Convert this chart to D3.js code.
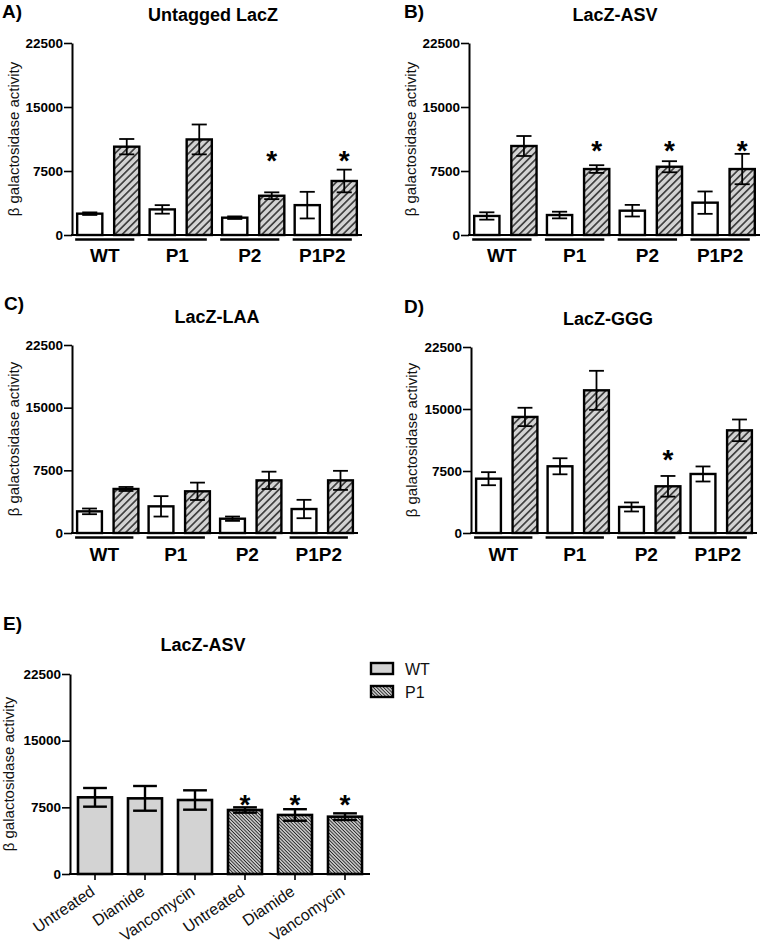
<!DOCTYPE html>
<html><head><meta charset="utf-8">
<script src="https://cdn.jsdelivr.net/npm/d3@7"></script>
<style>
body{margin:0;background:#fff}
svg{display:block}
text{font-family:Arial,"Liberation Sans",sans-serif}
</style>
</head><body>
<svg id="c" width="763" height="949"></svg>
<script>
// ---------- data ----------
const yTicks = [0, 7500, 15000, 22500];
const groups = ["WT", "P1", "P2", "P1P2"];
const strains = ["white", "hatched"];

// A) Untagged LacZ
const aWhite = [2500, 3000, 2030, 3500];
const aWhiteErr = [150, 500, 150, 1560];
const aHatch = [10350, 11200, 4600, 6330];
const aHatchErr = [900, 1750, 400, 1330];
const aStars = [false, false, true, true];

// B) LacZ-ASV
const bWhite = [2230, 2340, 2850, 3790];
const bWhiteErr = [430, 390, 680, 1310];
const bHatch = [10430, 7730, 8000, 7730];
const bHatchErr = [1170, 450, 650, 1780];
const bStars = [false, true, true, true];

// C) LacZ-LAA
const cWhite = [2590, 3190, 1710, 2870];
const cWhiteErr = [340, 1220, 260, 1100];
const cHatch = [5270, 4990, 6300, 6300];
const cHatchErr = [240, 1040, 1040, 1140];
const cStars = [false, false, false, false];

// D) LacZ-GGG
const dWhite = [6570, 8070, 3150, 7140];
const dWhiteErr = [790, 970, 545, 910];
const dHatch = [14040, 17260, 5650, 12420];
const dHatchErr = [1110, 2360, 1250, 1310];
const dStars = [false, false, true, false];

// E) LacZ-ASV treatments
const eCategories = ["Untreated", "Diamide", "Vancomycin", "Untreated", "Diamide", "Vancomycin"];
const eStrain = ["WT", "WT", "WT", "P1", "P1", "P1"];
const eValues = [8625, 8510, 8325, 7200, 6640, 6450];
const eErr = [1050, 1390, 1090, 300, 650, 375];
const eStars = [false, false, false, true, true, true];
const legendLabels = ["WT", "P1"];

// ---------- drawing ----------
const svg = d3.select("#c");
const defs = svg.append("defs");

const pA = defs.append("pattern").attr("id", "hatchA")
  .attr("patternUnits", "userSpaceOnUse").attr("width", 5.2).attr("height", 5.2)
  .attr("patternTransform", "rotate(45)");
pA.append("rect").attr("width", 5.2).attr("height", 5.2).attr("fill", "#d3d3d3");
pA.append("line").attr("x1", 2.6).attr("x2", 2.6).attr("y1", 0).attr("y2", 5.2)
  .attr("stroke", "#111").attr("stroke-width", 1.3);

const pE = defs.append("pattern").attr("id", "hatchE")
  .attr("patternUnits", "userSpaceOnUse").attr("width", 2.4).attr("height", 2.4)
  .attr("patternTransform", "rotate(-45)");
pE.append("rect").attr("width", 2.4).attr("height", 2.4).attr("fill", "#d0d0d0");
pE.append("line").attr("x1", 1.2).attr("x2", 1.2).attr("y1", 0).attr("y2", 2.4)
  .attr("stroke", "#222").attr("stroke-width", 0.9);

function styleYAxis(g) {
  g.select(".domain").attr("stroke", "#000").attr("stroke-width", 2);
  g.selectAll(".tick line").attr("stroke", "#000").attr("stroke-width", 1.6);
  g.selectAll(".tick text").attr("fill", "#000").style("font-size", "13.5px").style("font-weight", "bold");
}

function panelFrame(cfg, y) {
  const g = svg.append("g");
  g.append("text").attr("x", cfg.letterX).attr("y", cfg.letterY)
    .style("font-size", "19px").style("font-weight", "bold").text(cfg.letter);
  g.append("text").attr("x", cfg.titleX).attr("y", cfg.titleY).attr("text-anchor", "middle")
    .style("font-size", "18px").style("font-weight", "bold").text(cfg.title);
  const ax = g.append("g").attr("transform", `translate(${cfg.x0},0)`)
    .call(d3.axisLeft(y).tickValues(yTicks).tickSize(8).tickSizeOuter(0).tickPadding(1)
      .tickFormat(d3.format("d")));
  styleYAxis(ax);
  g.append("line").attr("x1", cfg.x0 - 1).attr("x2", cfg.x1).attr("y1", y(0)).attr("y2", y(0))
    .attr("stroke", "#000").attr("stroke-width", 2);
  g.append("text")
    .attr("transform", `translate(${cfg.ylabX},${(y(0) + y(22500)) / 2}) rotate(-90)`)
    .attr("text-anchor", "middle").style("font-size", "15px").attr("fill", "#111")
    .text("β galactosidase activity");
  return g;
}

function barPanel(cfg) {
  const y = d3.scaleLinear().domain([0, 22500]).range([cfg.y0, cfg.yTop]);
  const xo = d3.scaleBand().domain(groups).range([cfg.x0, cfg.x1]);
  const xi = d3.scaleBand().domain(strains).range([0, xo.bandwidth()])
    .paddingInner(0.32).paddingOuter(0.14);
  const g = panelFrame(cfg, y);
  const data = groups.flatMap((grp, i) => [
    {grp, s: "white", v: cfg.white[i], e: cfg.whiteErr[i], star: false},
    {grp, s: "hatched", v: cfg.hatch[i], e: cfg.hatchErr[i], star: cfg.stars[i]}
  ]);
  const bw = xi.bandwidth();
  g.selectAll("rect.bar").data(data).join("rect").attr("class", "bar")
    .attr("x", d => xo(d.grp) + xi(d.s)).attr("width", bw)
    .attr("y", d => y(d.v)).attr("height", d => y(0) - y(d.v))
    .attr("fill", d => d.s === "white" ? "#fff" : "url(#hatchA)")
    .attr("stroke", "#000").attr("stroke-width", 2.4);
  const cap = bw * 0.6;
  const eb = g.selectAll("g.err").data(data).join("g").attr("class", "err")
    .attr("stroke", "#000").attr("stroke-width", 1.8);
  eb.append("line").attr("x1", d => xo(d.grp) + xi(d.s) + bw / 2).attr("x2", d => xo(d.grp) + xi(d.s) + bw / 2)
    .attr("y1", d => y(d.v + d.e)).attr("y2", d => y(d.v - d.e));
  eb.append("line").attr("x1", d => xo(d.grp) + xi(d.s) + bw / 2 - cap / 2).attr("x2", d => xo(d.grp) + xi(d.s) + bw / 2 + cap / 2)
    .attr("y1", d => y(d.v + d.e)).attr("y2", d => y(d.v + d.e));
  eb.append("line").attr("x1", d => xo(d.grp) + xi(d.s) + bw / 2 - cap / 2).attr("x2", d => xo(d.grp) + xi(d.s) + bw / 2 + cap / 2)
    .attr("y1", d => y(d.v - d.e)).attr("y2", d => y(d.v - d.e));
  g.selectAll("text.star").data(data.filter(d => d.star)).join("text").attr("class", "star")
    .attr("x", d => xo(d.grp) + xi(d.s) + bw / 2).attr("y", y(cfg.starLevel) + 15)
    .attr("text-anchor", "middle").style("font-size", "28px").style("font-weight", "bold").text("*");
  // group underlines and labels
  groups.forEach(grp => {
    const l = xo(grp) + xi("white") - 2, r = xo(grp) + xi("hatched") + bw - 5;
    g.append("line").attr("x1", l).attr("x2", r).attr("y1", cfg.lineY).attr("y2", cfg.lineY)
      .attr("stroke", "#000").attr("stroke-width", 2.6);
    g.append("text").attr("x", (l + r) / 2).attr("y", cfg.labY).attr("text-anchor", "middle")
      .style("font-size", "19px").style("font-weight", "bold").text(grp);
  });
}

barPanel({letter: "A)", letterX: 2, letterY: 18, title: "Untagged LacZ", titleX: 213, titleY: 21,
  x0: 72, x1: 362, yTop: 43, y0: 235, ylabX: 19, lineY: 239.5, labY: 262,
  white: aWhite, whiteErr: aWhiteErr, hatch: aHatch, hatchErr: aHatchErr, stars: aStars, starLevel: 9375});
barPanel({letter: "B)", letterX: 404, letterY: 18, title: "LacZ-ASV", titleX: 615, titleY: 21,
  x0: 469, x1: 760, yTop: 43, y0: 235, ylabX: 416, lineY: 239.5, labY: 262,
  white: bWhite, whiteErr: bWhiteErr, hatch: bHatch, hatchErr: bHatchErr, stars: bStars, starLevel: 10550});
barPanel({letter: "C)", letterX: 4, letterY: 310, title: "LacZ-LAA", titleX: 217, titleY: 323,
  x0: 72, x1: 358, yTop: 345, y0: 533, ylabX: 19, lineY: 537.5, labY: 561,
  white: cWhite, whiteErr: cWhiteErr, hatch: cHatch, hatchErr: cHatchErr, stars: cStars, starLevel: 10000});
barPanel({letter: "D)", letterX: 404, letterY: 313, title: "LacZ-GGG", titleX: 608, titleY: 325,
  x0: 471, x1: 757, yTop: 347, y0: 533, ylabX: 417, lineY: 537.5, labY: 561,
  white: dWhite, whiteErr: dWhiteErr, hatch: dHatch, hatchErr: dHatchErr, stars: dStars, starLevel: 9600});

// ---------- panel E ----------
(function () {
  const cfg = {letter: "E)", letterX: 3, letterY: 630, title: "LacZ-ASV", titleX: 203, titleY: 651,
    x0: 70, x1: 370, yTop: 674, y0: 874, ylabX: 14};
  const y = d3.scaleLinear().domain([0, 22500]).range([cfg.y0, cfg.yTop]);
  const idx = eCategories.map((c, i) => i);
  const x = d3.scaleBand().domain(idx).range([cfg.x0, cfg.x1]).paddingInner(0.32).paddingOuter(0.16);
  const g = panelFrame(cfg, y);
  const bw = x.bandwidth();
  g.selectAll("line.xt").data(idx).join("line").attr("class", "xt")
    .attr("x1", i => x(i) + bw / 2).attr("x2", i => x(i) + bw / 2)
    .attr("y1", y(0)).attr("y2", y(0) + 6).attr("stroke", "#000").attr("stroke-width", 1.6);
  g.selectAll("rect.bar").data(idx).join("rect").attr("class", "bar")
    .attr("x", i => x(i)).attr("width", bw)
    .attr("y", i => y(eValues[i])).attr("height", i => y(0) - y(eValues[i]))
    .attr("fill", i => eStrain[i] === "WT" ? "#d3d3d3" : "url(#hatchE)")
    .attr("stroke", "#000").attr("stroke-width", 2.6);
  const cap = bw * 0.7;
  const eb = g.selectAll("g.err").data(idx).join("g").attr("class", "err")
    .attr("stroke", "#000").attr("stroke-width", 2.4);
  eb.append("line").attr("x1", i => x(i) + bw / 2).attr("x2", i => x(i) + bw / 2)
    .attr("y1", i => y(eValues[i] + eErr[i])).attr("y2", i => y(eValues[i] - eErr[i]));
  eb.append("line").attr("x1", i => x(i) + bw / 2 - cap / 2).attr("x2", i => x(i) + bw / 2 + cap / 2)
    .attr("y1", i => y(eValues[i] + eErr[i])).attr("y2", i => y(eValues[i] + eErr[i]));
  eb.append("line").attr("x1", i => x(i) + bw / 2 - cap / 2).attr("x2", i => x(i) + bw / 2 + cap / 2)
    .attr("y1", i => y(eValues[i] - eErr[i])).attr("y2", i => y(eValues[i] - eErr[i]));
  g.selectAll("text.star").data(idx.filter(i => eStars[i])).join("text").attr("class", "star")
    .attr("x", i => x(i) + bw / 2).attr("y", y(8440) + 15)
    .attr("text-anchor", "middle").style("font-size", "28px").style("font-weight", "bold").text("*");
  g.selectAll("text.xl").data(idx).join("text").attr("class", "xl")
    .attr("transform", i => `translate(${x(i) + bw / 2 + 1},${y(0) + 20}) rotate(-34)`)
    .attr("text-anchor", "end").style("font-size", "16px").attr("fill", "#111")
    .text(i => eCategories[i]);
  // legend
  const lg = svg.append("g").attr("transform", "translate(370,662)");
  legendLabels.forEach((lab, k) => {
    lg.append("rect").attr("x", 1).attr("y", k * 23 + 1).attr("width", 22).attr("height", 11)
      .attr("fill", k === 0 ? "#d3d3d3" : "url(#hatchE)").attr("stroke", "#000").attr("stroke-width", 2.4);
    lg.append("text").attr("x", 35).attr("y", k * 23 + 12.5).style("font-size", "16px")
      .attr("fill", "#111").text(lab);
  });
})();
</script>
</body></html>
